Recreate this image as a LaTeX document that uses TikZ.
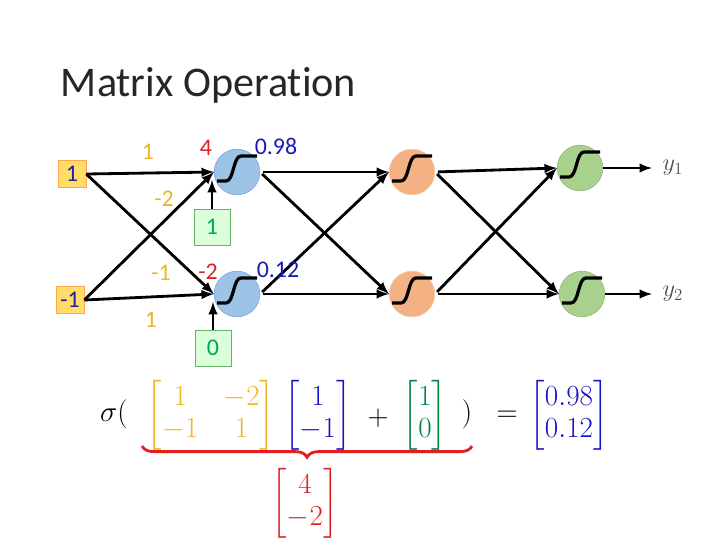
\documentclass[tikz,border=0pt]{standalone}
\usepackage{amsmath}
\usepackage{fontspec}
\setmainfont{Carlito}[Ligatures=NoCommon]
\usetikzlibrary{positioning, decorations.pathreplacing}

\definecolor{wgold}{HTML}{F0B428}
\definecolor{zred}{HTML}{E02020}
\definecolor{ablue}{HTML}{1A1AB8}
\definecolor{innavy}{HTML}{2020A0}
\definecolor{bgreen}{HTML}{00A651}
\definecolor{nblue}{HTML}{9DC3E6}
\definecolor{nsalmon}{HTML}{F4B183}
\definecolor{ngreen}{HTML}{A9D18E}

\begin{document}
\begin{tikzpicture}[>=latex, x=0.025cm, y=-0.025cm,
    txt/.style={font=\fontsize{17}{20}\selectfont},
    inbox/.style={draw=orange!70, fill=orange!45!yellow!60, minimum width=0.7cm, minimum height=0.67cm, inner sep=0pt, txt, text=innavy},
    biasbox/.style={draw=green!50!black!60, fill=green!20!white!70, minimum size=0.9cm, inner sep=0pt, txt, text=bgreen},
    neuron/.style={circle, minimum size=1.14cm, inner sep=0pt},
    link/.style={->, line width=2pt},
    sigmoid/.pic={\draw[line width=2.3pt] (-20,9) -- (-11,9) .. controls (-3,9) and (-4,-16) .. (4,-16) -- (20,-16);}]
    \useasboundingbox (0,0) rectangle (720,540);

    % Titel
    \node[anchor=base west, font=\fontsize{30}{34}\selectfont, text=black!85] (title) at (56,96) {Matrix Operation};

    % Eingaben und Bias
    \node[inbox] (in1) at (72,174) {1};
    \node[inbox] (in2) at (70,300) {-1};
    \node[biasbox] (bias1) at (212,227) {1};
    \node[biasbox] (bias2) at (213,348) {0};

    % Neuronen
    \node[neuron, fill=nblue, draw=nblue!80!blue] (a1) at (237,172) {};
    \node[neuron, fill=nblue, draw=nblue!80!blue] (a2) at (237,294) {};
    \node[neuron, fill=nsalmon, draw=nsalmon!70!white] (b1) at (412,172) {};
    \node[neuron, fill=nsalmon, draw=nsalmon!70!white] (b2) at (412,294) {};
    \node[neuron, fill=ngreen, draw=ngreen!85!black] (c1) at (580,168) {};
    \node[neuron, fill=ngreen, draw=ngreen!85!black] (c2) at (582,294) {};
    \foreach \n in {a1,a2,b1,b2,c1,c2}
        \pic at (\n) {sigmoid};

    % Verbindungen
    \foreach \s in {in1,in2}
        \foreach \t in {a1,a2}
            \draw[link] (\s.east) -- (\t.west);
    \draw[link] (bias1.north) -- (bias1.north |- a1.200);
    \draw[link] (bias2.north) -- (bias2.north |- a2.200);
    \foreach \s in {a1,a2}
        \foreach \t in {b1,b2}
            \draw[link, shorten <=2pt] (\s.east) -- (\t.west);
    \foreach \s in {b1,b2}
        \foreach \t in {c1,c2}
            \draw[link, shorten <=2pt] (\s.east) -- (\t.west);
    \coordinate (o1) at (652,168);
    \coordinate (o2) at (652,294);
    \draw[link] (c1.east) -- (o1);
    \draw[link] (c2.east) -- (o2);
    \node[right=4pt of o1, font=\fontsize{18}{20}\selectfont, text=black!70] (y1) {$y_1$};
    \node[right=4pt of o2, font=\fontsize{18}{20}\selectfont, text=black!70] (y2) {$y_2$};

    % Gewichte und Werte
    \node[txt, text=wgold] (w11) at (148,152) {1};
    \node[txt, text=wgold] (w12) at (164,199) {-2};
    \node[txt, text=wgold] (w21) at (161,273) {-1};
    \node[txt, text=wgold] (w22) at (151,320) {1};
    \node[txt, text=zred] (z1) at (206,148) {4};
    \node[txt, text=zred] (z2) at (208,272) {-2};
    \node[txt, text=ablue] (s1) at (276,146) {0.98};
    \node[txt, text=ablue] (s2) at (278,270) {0.12};

    % Formel
    \begin{scope}[every node/.style={font=\fontsize{22}{28}\selectfont, execute at begin node={\renewcommand{\arraystretch}{0.8}}}]
        \node (sig) at (114,414) {$\sigma($};
        \node[text=wgold] (W) at (211,415) {\setlength{\arraycolsep}{9pt}$\begin{bmatrix} 1 & -2\\ -1 & 1\end{bmatrix}$};
        \node[text=ablue!80!blue] (x) at (318,415) {$\begin{bmatrix} 1\\ -1\end{bmatrix}$};
        \node (plus) at (378,418) {$+$};
        \node[text=bgreen!80!black] (b) at (425,415) {\setlength{\arraycolsep}{1pt}$\begin{bmatrix} 1\\ 0\end{bmatrix}$};
        \node (cl) at (467,414) {$)$};
        \node (eq) at (507,416) {$=$};
        \node[text=ablue!80!blue] (res) at (569,415) {\setlength{\arraycolsep}{1pt}$\begin{bmatrix} 0.98\\ 0.12\end{bmatrix}$};
        \node[text=zred] (z) at (305,503) {$\begin{bmatrix} 4\\ -2\end{bmatrix}$};
    \end{scope}
    \draw[zred, line width=2pt, decorate, decoration={brace, mirror, amplitude=8pt}] (142,446) -- (472,446);
\end{tikzpicture}
\end{document}
